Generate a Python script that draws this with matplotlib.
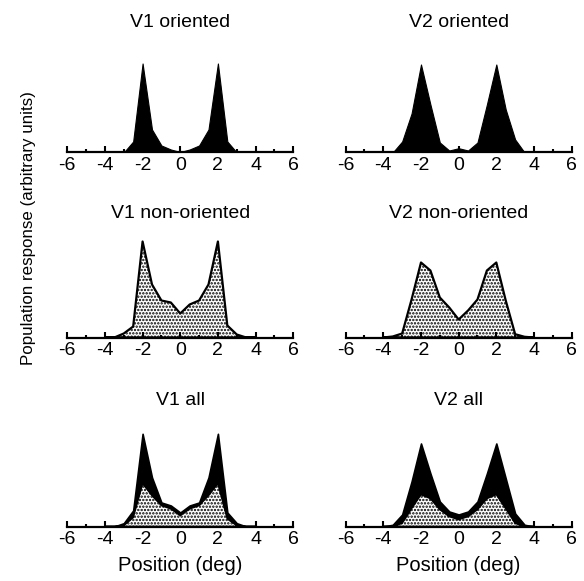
import matplotlib
matplotlib.use("Agg")
import matplotlib.pyplot as plt
from matplotlib.ticker import MultipleLocator
import numpy as np

plt.rcParams['font.family'] = ['Liberation Sans', 'DejaVu Sans']
plt.rcParams['hatch.linewidth'] = 1.15

# Position (deg)
positions = [-4, -3.5, -3, -2.5, -2, -1.5, -1, -0.5, 0, 0.5, 1, 1.5, 2, 2.5, 3, 3.5, 4]

v1_oriented = [0, 0, 0, 11, 89, 23, 7, 3, 0.5, 3, 7, 23, 89, 11, 0, 0, 0]
v2_oriented = [0, 0, 11, 39, 88, 48, 10, 2, 4.3, 2, 10, 48, 88, 43, 13, 0, 0]
v1_nonoriented = [0, 0, 4, 11, 96, 53, 37, 35, 24, 33, 37, 53, 96, 12, 3, 0, 0]
v2_nonoriented = [0, 1, 4, 38, 75, 67, 40, 30, 18, 27, 38, 67, 75, 37, 3.3, 0.7, 0]
v1_all_total = [0, 0, 3.3, 16, 92.7, 49, 24, 21, 14, 21, 24, 49, 92.7, 14, 3.3, 0, 0]
v1_all_nonoriented = [0, 0, 1, 9, 43, 31, 21, 17.7, 11, 17.7, 21, 31, 43, 7.7, 1, 0, 0]
v2_all_total = [0, 1.7, 12, 45, 83, 53, 25, 15, 12, 15, 25, 53, 83, 48, 13, 1.7, 0]
v2_all_nonoriented = [0, 0, 3.3, 18, 32, 28, 17, 10, 7, 10, 17, 28, 32, 18, 3.3, 0, 0]

titles = [["V1 oriented", "V2 oriented"],
          ["V1 non-oriented", "V2 non-oriented"],
          ["V1 all", "V2 all"]]
xticks = [-6, -4, -2, 0, 2, 4, 6]
xticklabels = ["-6", "-4", "-2", "0", "2", "4", "6"]

W, H = 584, 581
fig = plt.figure(figsize=(W / 100, H / 100), dpi=100)

lefts = [63.5 / W, 341.9 / W]
width = 233.5 / W
bottoms = [428.5 / H, 243.5 / H, 54.5 / H]
height = 100 / H
title_pads = [18.6, 13.8, 15.5]

x = np.array(positions)

def style(ax, row):
    ax.set_xlim(-6.2, 6.2)
    ax.set_ylim(0, 100)
    for s in ['left', 'right', 'top']:
        ax.spines[s].set_visible(False)
    ax.spines['bottom'].set_linewidth(1.6)
    ax.spines['bottom'].set_bounds(-6, 6)
    ax.set_yticks([])
    ax.set_xticks(xticks)
    ax.set_xticklabels(xticklabels, fontsize=14)
    ax.xaxis.set_minor_locator(MultipleLocator(1))
    ax.tick_params(axis='x', which='major', direction='in', length=4, width=1.5, pad=3.5)
    ax.tick_params(axis='x', which='minor', direction='in', length=2.5, width=1.5)
    ax.patch.set_alpha(0)

axes = [[None, None], [None, None], [None, None]]
for r in range(3):
    for c in range(2):
        ax = fig.add_axes([lefts[c], bottoms[r], width, height])
        axes[r][c] = ax
        style(ax, r)
        ax.set_title(titles[r][c], fontsize=14, pad=title_pads[r])

# Row 1: oriented (solid black)
for c, vals in enumerate([v1_oriented, v2_oriented]):
    axes[0][c].fill_between(x, 0, vals, facecolor='black', edgecolor='black', linewidth=0.8, zorder=1)

# Row 2: non-oriented (dotted with outline)
for c, vals in enumerate([v1_nonoriented, v2_nonoriented]):
    axes[1][c].fill_between(x, 0, vals, facecolor='white', edgecolor='black',
                            hatch='.....', linewidth=1.6, zorder=1)

# Row 3: all = black total with dotted non-oriented part
for c, (tot, low) in enumerate([(v1_all_total, v1_all_nonoriented),
                                 (v2_all_total, v2_all_nonoriented)]):
    axes[2][c].fill_between(x, 0, tot, facecolor='black', edgecolor='black', linewidth=1.2, zorder=1)
    axes[2][c].fill_between(x, 0, low, facecolor='white', edgecolor='black',
                            hatch='.....', linewidth=1.2, zorder=2)
    axes[2][c].set_xlabel("Position (deg)", fontsize=14.5, labelpad=5.5)

fig.text(29 / W, 1 - 228 / H, "Population response (arbitrary units)",
         rotation=90, ha='center', va='center', fontsize=12.2)

fig.savefig("out.png", dpi=100)
